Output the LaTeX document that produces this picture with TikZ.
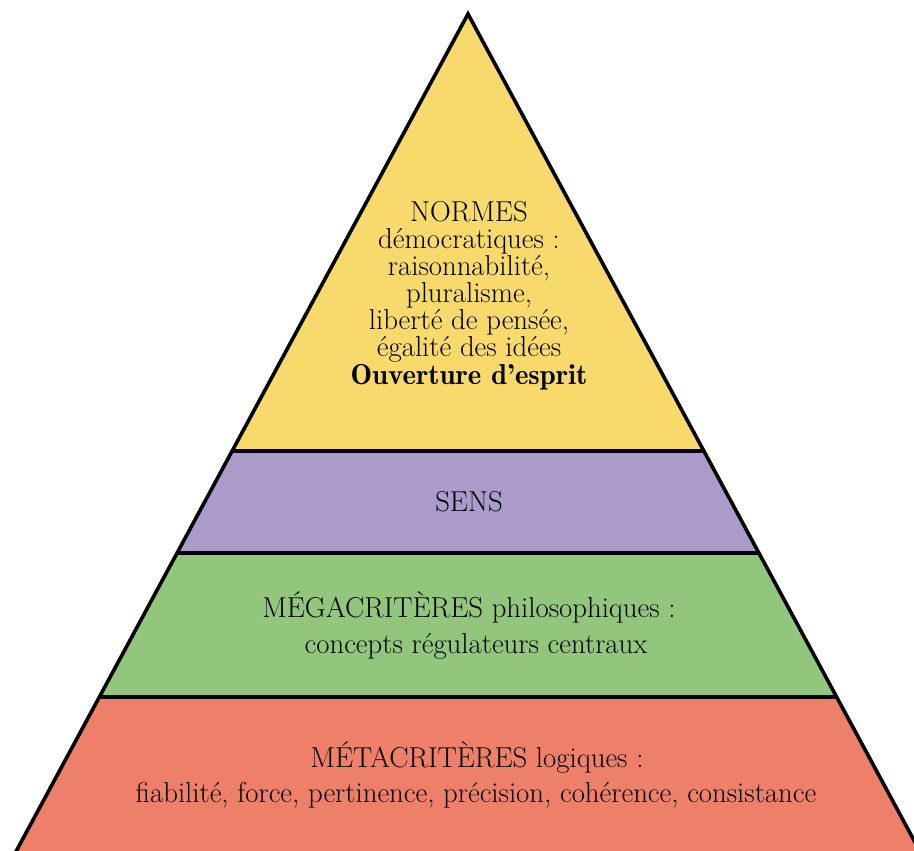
\documentclass[tikz,border=0pt]{standalone}
\definecolor{cyellow}{RGB}{247,218,107}
\definecolor{cpurple}{RGB}{171,155,202}
\definecolor{cgreen}{RGB}{146,198,124}
\definecolor{cred}{RGB}{238,128,106}
\begin{document}
\begin{tikzpicture}[x=1pt,y=1pt,
  bandline/.style={line width=3.6pt, line join=miter},
  txt/.style={anchor=base, inner sep=0pt, font=\fontsize{28.8}{27}\selectfont}]
\useasboundingbox (0,0) rectangle (914,851);
\clip (0,0) rectangle (914,851);
% fills
\fill[cyellow] (468,837) -- (704,400) -- (232,400) -- cycle;
\fill[cpurple] (232,400) -- (704,400) -- (759,298) -- (177,298) -- cycle;
\fill[cgreen] (177,298) -- (759,298) -- (837,154) -- (99,154) -- cycle;
\fill[cred] (99,154) -- (837,154) -- (930,-19) -- (6,-19) -- cycle;
% outlines
\draw[bandline] (6,-19) -- (468,837) -- (930,-19);
\draw[bandline] (232,400) -- (704,400);
\draw[bandline] (177,298) -- (759,298);
\draw[bandline] (99,154) -- (837,154);
% texts
\node[txt] (n1) at (469,629) {NORMES};
\node[txt] (n2) at (469,602) {démocratiques :};
\node[txt] (n3) at (469,575) {raisonnabilité,};
\node[txt] (n4) at (469,548) {pluralisme,};
\node[txt] (n5) at (469,521) {liberté de pensée,};
\node[txt] (n6) at (469,494) {égalité des idées};
\node[txt] (n7) at (469,466) {\fontseries{b}\selectfont Ouverture d’esprit};
\node[txt] (s1) at (469,339) {SENS};
\node[txt] (g1) at (469,233) {MÉGACRITÈRES philosophiques :};
\node[txt] (g2) at (476,197) {concepts régulateurs centraux};
\node[txt] (m1) at (477,83) {MÉTACRITÈRES logiques :};
\node[txt] (m2) at (476,48) {fiabilité, force, pertinence, précision, cohérence, consistance};
\end{tikzpicture}
\end{document}
